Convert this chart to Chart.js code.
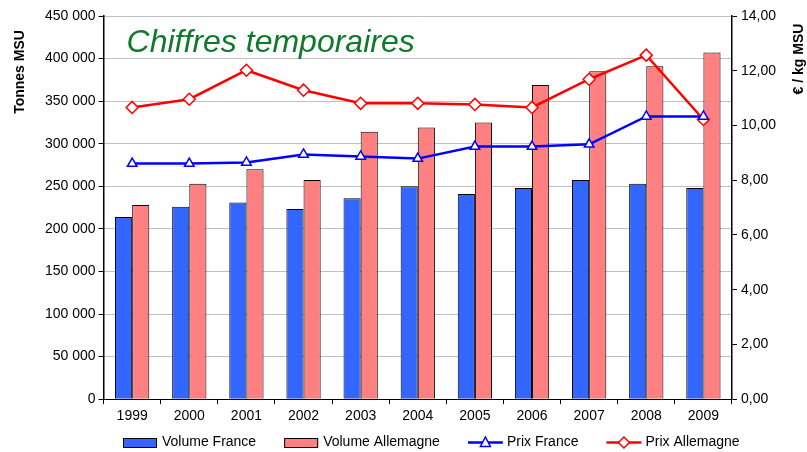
<!DOCTYPE html>
<html>
<head>
<meta charset="utf-8">
<script src="https://cdn.jsdelivr.net/npm/chart.js@4.4.1/dist/chart.umd.min.js"></script>
<style>
  html, body { margin: 0; padding: 0; background: #fff; }
  #wrap { width: 807px; height: 452px; }
</style>
</head>
<body>
<div id="wrap"><canvas id="chart" width="807" height="452"></canvas></div>
<script>
var years = ["1999", "2000", "2001", "2002", "2003", "2004", "2005", "2006", "2007", "2008", "2009"];
var volumeFrance = [214000, 226000, 231000, 223500, 236000, 250000, 241000, 248000, 257500, 253000, 248000];
var volumeAllemagne = [228000, 253000, 270000, 257500, 314000, 319000, 325000, 369000, 385000, 391000, 407000];
var prixFrance = [8.61, 8.61, 8.65, 8.94, 8.87, 8.79, 9.23, 9.23, 9.31, 10.33, 10.33];
var prixAllemagne = [10.66, 10.96, 12.02, 11.29, 10.81, 10.81, 10.77, 10.66, 11.69, 12.57, 10.22];

var blue = "#3366FF",
    pink = "#FF8080",
    lineBlue = "#0000FF",
    lineRed = "#FF0000",
    grid = "#C0C0C0",
    font = "'Liberation Sans', Arial, sans-serif";

function fmtTonnes(v) {
    return String(v).replace(/\B(?=(\d{3})+(?!\d))/g, " ");
}

var legendItems = [
    { text: "Volume France", kind: "box", color: blue },
    { text: "Volume Allemagne", kind: "box", color: pink },
    { text: "Prix France", kind: "line", color: lineBlue, marker: "triangle" },
    { text: "Prix Allemagne", kind: "line", color: lineRed, marker: "diamond" }
];

var extras = {
    id: "extras",
    afterDraw: function (chart) {
        var ctx = chart.ctx, area = chart.chartArea;
        ctx.save();
        // title inside plot
        ctx.fillStyle = "#0E7A2A";
        ctx.font = "italic 32px " + font;
        ctx.textAlign = "left";
        ctx.textBaseline = "middle";
        ctx.fillText("Chiffres temporaires", area.left + 23, area.top + 27);

        // axis titles, both reading bottom to top
        ctx.fillStyle = "#000";
        ctx.font = "bold 14px " + font;
        ctx.textAlign = "center";
        ctx.save();
        ctx.translate(20, 72);
        ctx.rotate(-Math.PI / 2);
        ctx.fillText("Tonnes MSU", 0, 0);
        ctx.restore();
        ctx.save();
        ctx.translate(799, 59);
        ctx.rotate(-Math.PI / 2);
        ctx.fillText("€ / kg MSU", 0, 0);
        ctx.restore();

        // legend
        ctx.font = "14px " + font;
        ctx.textAlign = "left";
        var y = 442.5, x = 123, gap = 28;
        legendItems.forEach(function (it) {
            if (it.kind === "box") {
                ctx.fillStyle = it.color;
                ctx.fillRect(x, y - 4.5, 34, 9);
                ctx.strokeStyle = "#000";
                ctx.lineWidth = 1;
                ctx.strokeRect(x + 0.5, y - 4, 33, 9);
            } else {
                ctx.strokeStyle = it.color;
                ctx.lineWidth = 2.5;
                ctx.beginPath();
                ctx.moveTo(x, y);
                ctx.lineTo(x + 35, y);
                ctx.stroke();
                ctx.fillStyle = "#fff";
                ctx.lineWidth = 1.5;
                ctx.beginPath();
                var cx = x + 17.5;
                if (it.marker === "triangle") {
                    ctx.moveTo(cx, y - 5.5);
                    ctx.lineTo(cx + 5, y + 4);
                    ctx.lineTo(cx - 5, y + 4);
                } else {
                    ctx.moveTo(cx, y - 5.5);
                    ctx.lineTo(cx + 5.5, y);
                    ctx.lineTo(cx, y + 5.5);
                    ctx.lineTo(cx - 5.5, y);
                }
                ctx.closePath();
                ctx.fill();
                ctx.stroke();
            }
            var tx = x + 39;
            ctx.fillStyle = "#000";
            ctx.fillText(it.text, tx, y);
            x = tx + ctx.measureText(it.text).width + gap;
        });
        ctx.restore();
    }
};

new Chart(document.getElementById("chart").getContext("2d"), {
    type: "bar",
    data: {
        labels: years,
        datasets: [{
            label: "Prix France",
            type: "line",
            yAxisID: "y2",
            data: prixFrance,
            borderColor: lineBlue,
            borderWidth: 2.5,
            pointStyle: "triangle",
            pointRadius: 5.5,
            pointBorderWidth: 1.5,
            pointBackgroundColor: "#fff",
            pointBorderColor: lineBlue,
            tension: 0,
            order: 0
        }, {
            label: "Prix Allemagne",
            type: "line",
            yAxisID: "y2",
            data: prixAllemagne,
            borderColor: lineRed,
            borderWidth: 2.5,
            pointStyle: "rectRot",
            pointRadius: 6,
            pointBorderWidth: 1.5,
            pointBackgroundColor: "#fff",
            pointBorderColor: lineRed,
            tension: 0,
            order: 0
        }, {
            label: "Volume France",
            data: volumeFrance,
            yAxisID: "y",
            backgroundColor: blue,
            borderColor: "#000",
            borderWidth: 1,
            borderSkipped: "bottom",
            order: 1
        }, {
            label: "Volume Allemagne",
            data: volumeAllemagne,
            yAxisID: "y",
            backgroundColor: pink,
            borderColor: "#000",
            borderWidth: 1,
            borderSkipped: "bottom",
            order: 1
        }]
    },
    options: {
        responsive: false,
        animation: false,
        categoryPercentage: 0.6,
        barPercentage: 1.0,
        layout: { padding: { top: 16, left: 42, right: 27, bottom: 23 } },
        plugins: {
            legend: { display: false },
            tooltip: { enabled: false },
            title: { display: false }
        },
        scales: {
            x: {
                grid: { offset: true, drawOnChartArea: false, color: "#000", tickLength: 5 },
                border: { color: "#000", width: 1 },
                ticks: { color: "#000", font: { family: font, size: 14 }, padding: 4 }
            },
            y: {
                position: "left",
                min: 0,
                max: 450000,
                ticks: {
                    stepSize: 50000,
                    color: "#000",
                    font: { family: font, size: 14 },
                    padding: 3,
                    callback: function (v) { return fmtTonnes(v); }
                },
                grid: { color: grid, tickColor: "#000", tickLength: 5 },
                border: { color: "#000", width: 1.5 }
            },
            y2: {
                position: "right",
                min: 0,
                max: 14,
                ticks: {
                    stepSize: 2,
                    color: "#000",
                    font: { family: font, size: 14 },
                    padding: 4,
                    callback: function (v) { return v.toFixed(2).replace(".", ","); }
                },
                grid: { drawOnChartArea: false, color: "#000", tickLength: 5 },
                border: { color: "#000", width: 1.5 }
            }
        }
    },
    plugins: [extras]
});
</script>
</body>
</html>
